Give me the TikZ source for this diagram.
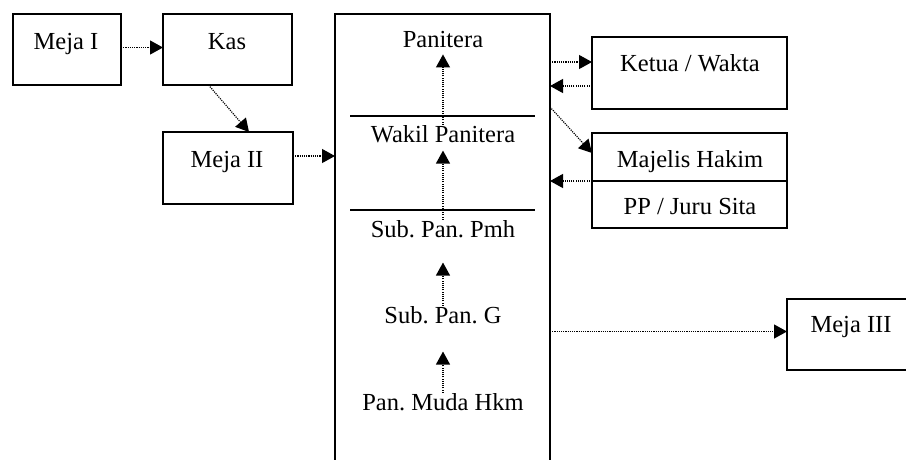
\documentclass[tikz,border=0pt]{standalone}
\usepackage{fontspec}
\setmainfont{Liberation Serif}
\usetikzlibrary{arrows.meta}
\frenchspacing
\begin{document}
\begin{tikzpicture}[x=1pt,y=-1pt,
  box/.style={draw,line width=1.3pt,rectangle,inner sep=0pt,outer sep=0pt,anchor=north west},
  lbl/.style={inner sep=0pt,anchor=base,font=\fontsize{24.5}{28}\selectfont},
  sepline/.style={line width=1.7pt},
  arr/.style={line width=1.2pt,dash pattern=on 1.1pt off 1.1pt,-{Triangle[length=13pt,width=14pt]}}]
\useasboundingbox (0,0) rectangle (906,459);
\clip (0,0) rectangle (906,459);
% boxes
\node[box,minimum width=108pt,minimum height=71pt] (m1) at (13,14) {};
\node[box,minimum width=129pt,minimum height=71pt] (kas) at (163,14) {};
\node[box,minimum width=130pt,minimum height=72pt] (m2) at (163,132) {};
\node[box,minimum width=215pt,minimum height=480pt] (pan) at (335,14) {};
\node[box,minimum width=195pt,minimum height=72pt] (ket) at (592,37) {};
\node[box,minimum width=195pt,minimum height=48pt] (maj) at (592,133) {};
\node[box,minimum width=195pt,minimum height=47pt] (pp) at (592,181) {};
\node[box,minimum width=160pt,minimum height=71pt] (m3) at (787,299) {};
% separators inside the big box
\draw[sepline] (350,116) -- (535,116);
\draw[sepline] (350,210) -- (535,210);
% texts
\node[lbl] (tm1) at (66,49) {Meja I};
\node[lbl] (tkas) at (227,49) {Kas};
\node[lbl] (tm2) at (227,167) {Meja II};
\node[lbl] (tpan) at (443,47) {Panitera};
\node[lbl] (twak) at (443,142) {Wakil Panitera};
\node[lbl] (tsp) at (443,237) {Sub. Pan. Pmh};
\node[lbl] (tsg) at (443,323) {Sub. Pan. G};
\node[lbl] (tmuda) at (443,410) {Pan. Muda Hkm};
\node[lbl] (tket) at (690,71) {Ketua / Wakta};
\node[lbl] (tmaj) at (690,167) {Majelis Hakim};
\node[lbl] (tpp) at (690,214) {PP / Juru Sita};
\node[lbl] (tm3) at (851,332) {Meja III};
% connectors
\draw[arr] ([yshift=2pt]m1.east) -- ([yshift=2pt]m1.east -| kas.west);
\draw[arr] ([xshift=-19pt]kas.south) -- ([xshift=21pt]m2.north);
\draw[arr] ([yshift=12pt]m2.east) -- ([yshift=12pt]m2.east -| pan.west);
\draw[arr] ([yshift=11pt]ket.west -| pan.east) -- ([yshift=11pt]ket.west);
\draw[arr] ([yshift=-13pt]ket.west) -- ([yshift=-13pt]ket.west -| pan.east);
\draw[arr] ([yshift=-34pt]ket.west -| pan.east) -- ([yshift=4pt]maj.west);
\draw[arr] (pp.north west) -- (pp.north west -| pan.east);
\draw[arr] ([yshift=3pt]m3.west -| pan.east) -- ([yshift=3pt]m3.west);
% vertical chain
\draw[arr,shorten >=7pt] (twak.north) -- (tpan.south);
\draw[arr,shorten >=8pt] (tsp.north) -- (twak.south);
\draw[arr,shorten >=25pt] (tsg.north) -- (tsp.south);
\draw[arr,shorten >=28pt] (tmuda.north) -- (tsg.south);
\end{tikzpicture}
\end{document}
